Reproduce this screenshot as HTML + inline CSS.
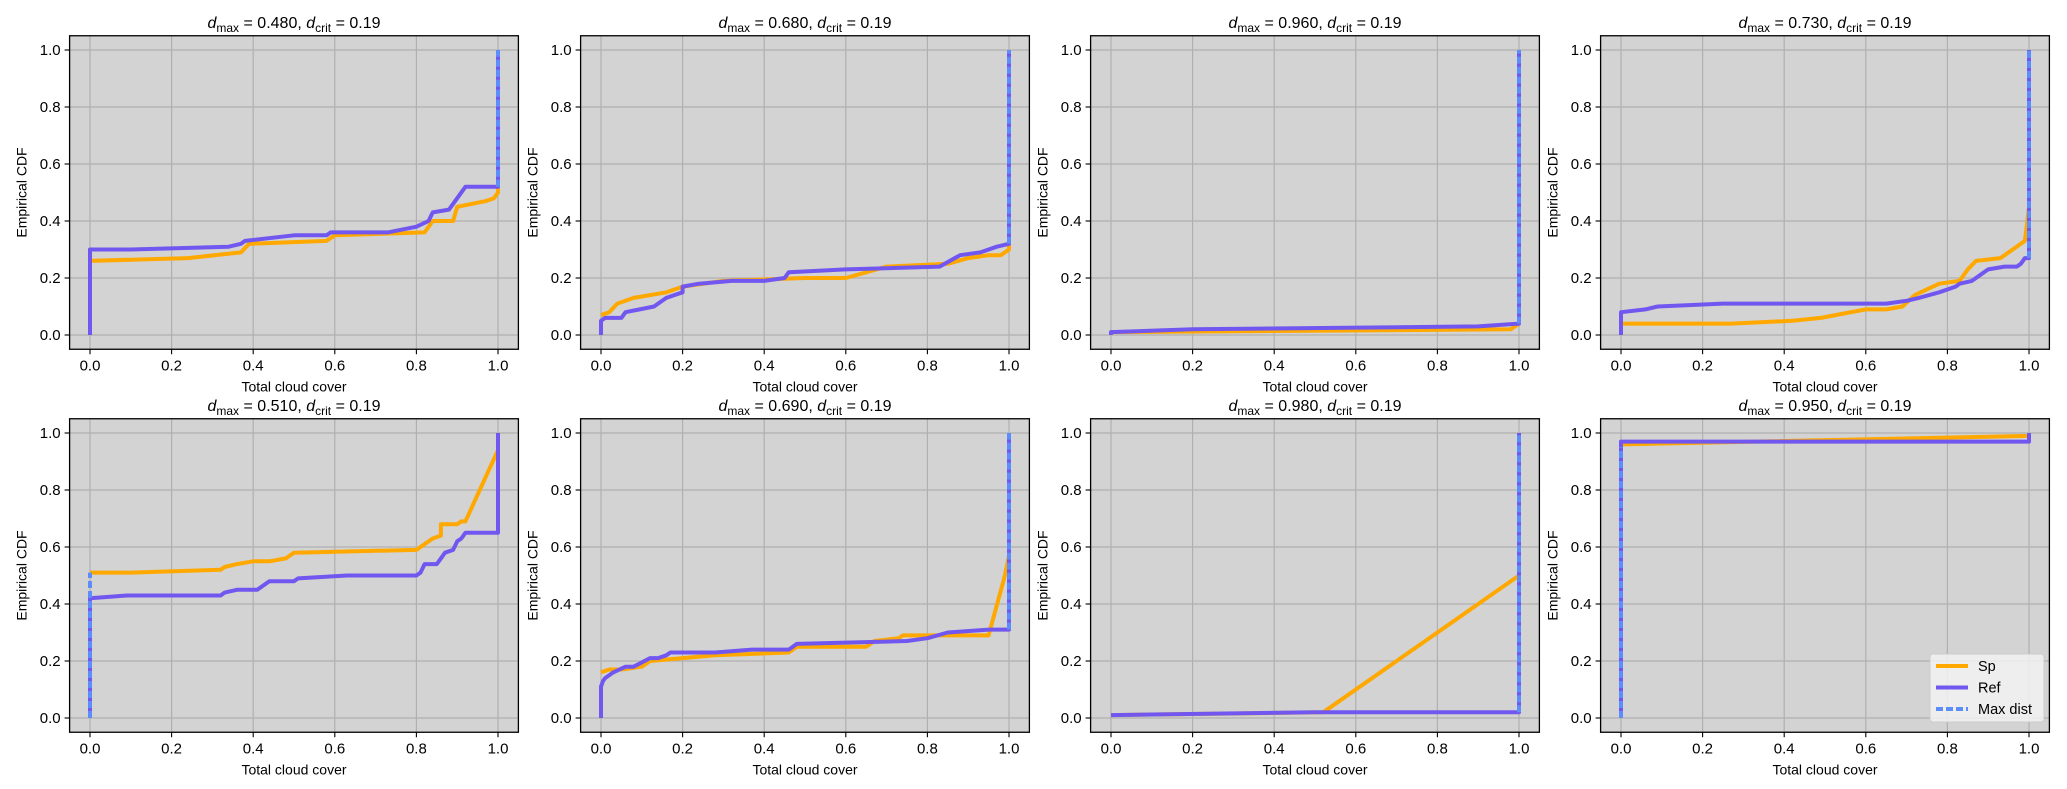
<!DOCTYPE html>
<html><head><meta charset="utf-8"><style>
html,body{margin:0;padding:0;background:#fff;}
svg{display:block;font-family:"Liberation Sans","DejaVu Sans",sans-serif;}
</style></head>
<body>
<svg id="fig" width="2067" height="789" viewBox="0 0 2067 789" xmlns="http://www.w3.org/2000/svg"></svg>
<script>
const panelTitles = ["0.480","0.680","0.960","0.730","0.510","0.690","0.980","0.950"];
const dCrit = "0.19";
const xTicks = [0,0.2,0.4,0.6,0.8,1.0];
const yTicks = [0,0.2,0.4,0.6,0.8,1.0];
const spSeries = [
 [[0,0.26],[0.24,0.27],[0.37,0.29],[0.39,0.32],[0.58,0.33],[0.6,0.35],[0.82,0.36],[0.84,0.40],[0.89,0.40],[0.9,0.45],[0.97,0.47],[0.99,0.48],[1,0.5],[1,1]],
 [[0,0.07],[0.02,0.08],[0.04,0.11],[0.08,0.13],[0.12,0.14],[0.16,0.15],[0.2,0.17],[0.3,0.19],[0.5,0.2],[0.6,0.2],[0.65,0.22],[0.7,0.24],[0.85,0.25],[0.9,0.27],[0.95,0.28],[0.98,0.28],[1,0.3],[1,1]],
 [[0,0.01],[0.98,0.02],[1,0.04],[1,1]],
 [[0,0.04],[0.27,0.04],[0.42,0.05],[0.49,0.06],[0.6,0.09],[0.65,0.09],[0.69,0.1],[0.72,0.14],[0.78,0.18],[0.83,0.19],[0.85,0.23],[0.87,0.26],[0.93,0.27],[0.96,0.3],[0.98,0.32],[0.99,0.33],[1,0.45],[1,1]],
 [[0,0.51],[0.1,0.51],[0.32,0.52],[0.33,0.53],[0.36,0.54],[0.4,0.55],[0.44,0.55],[0.48,0.56],[0.5,0.58],[0.8,0.59],[0.82,0.61],[0.84,0.63],[0.86,0.64],[0.86,0.68],[0.9,0.68],[0.91,0.69],[0.92,0.69],[1,0.94]],
 [[0,0.16],[0.02,0.17],[0.05,0.17],[0.1,0.18],[0.12,0.2],[0.2,0.21],[0.28,0.22],[0.46,0.23],[0.48,0.25],[0.65,0.25],[0.67,0.27],[0.73,0.28],[0.74,0.29],[0.95,0.29],[0.99,0.5],[1,0.57]],
 [[0,0.01],[0.52,0.02],[1,0.5]],
 [[0,0.96],[1,0.99],[1,1]]
];
const refSeries = [
 [[0,0],[0,0.3],[0.1,0.3],[0.34,0.31],[0.37,0.32],[0.38,0.33],[0.5,0.35],[0.58,0.35],[0.59,0.36],[0.73,0.36],[0.8,0.38],[0.83,0.4],[0.84,0.43],[0.88,0.44],[0.9,0.48],[0.92,0.52],[1,0.52],[1,1]],
 [[0,0],[0,0.05],[0.01,0.06],[0.05,0.06],[0.06,0.08],[0.13,0.1],[0.16,0.13],[0.2,0.15],[0.2,0.17],[0.24,0.18],[0.32,0.19],[0.4,0.19],[0.45,0.2],[0.46,0.22],[0.6,0.23],[0.83,0.24],[0.88,0.28],[0.93,0.29],[0.97,0.31],[1,0.32],[1,1]],
 [[0,0],[0,0.01],[0.2,0.02],[0.9,0.03],[1,0.04],[1,1]],
 [[0,0],[0,0.08],[0.06,0.09],[0.09,0.1],[0.25,0.11],[0.65,0.11],[0.7,0.12],[0.73,0.13],[0.78,0.15],[0.82,0.17],[0.83,0.18],[0.86,0.19],[0.88,0.21],[0.9,0.23],[0.94,0.24],[0.97,0.24],[0.98,0.25],[0.99,0.27],[1,0.27],[1,1]],
 [[0,0],[0,0.42],[0.09,0.43],[0.32,0.43],[0.33,0.44],[0.36,0.45],[0.41,0.45],[0.43,0.47],[0.44,0.48],[0.5,0.48],[0.51,0.49],[0.63,0.5],[0.8,0.5],[0.81,0.51],[0.82,0.54],[0.85,0.54],[0.86,0.56],[0.87,0.58],[0.89,0.59],[0.9,0.62],[0.91,0.63],[0.92,0.65],[1,0.65],[1,1]],
 [[0,0],[0,0.11],[0.005,0.13],[0.01,0.14],[0.03,0.16],[0.06,0.18],[0.08,0.18],[0.12,0.21],[0.14,0.21],[0.16,0.22],[0.17,0.23],[0.28,0.23],[0.37,0.24],[0.46,0.24],[0.47,0.25],[0.48,0.26],[0.75,0.27],[0.8,0.28],[0.85,0.3],[0.95,0.31],[1,0.31],[1,1]],
 [[0,0.01],[0.5,0.02],[1,0.02],[1,1]],
 [[0,0],[0,0.97],[1,0.97],[1,1]]
];
const maxDistX = [1,1,1,1,0,1,1,0];
const maxDistLo = [0.52,0.32,0.04,0.27,0,0.31,0.02,0];
const maxDistHi = [1,1,1,1,0.51,1,1,0.95];

const NS="http://www.w3.org/2000/svg";
const svg=document.getElementById('fig');
function mk(tag,attrs,parent){const e=document.createElementNS(NS,tag);for(const k in attrs)e.setAttribute(k,attrs[k]);(parent||svg).appendChild(e);return e;}
const colX0=[90,601,1111,1621], xScale=408;
const rowY0=[335,718], yScale=285;
const ORANGE="#ffa800", PURPLE="#7157ef", BLUE="#5c8dfa";
const LW=4;

for(let p=0;p<8;p++){
  const c=p%4, r=Math.floor(p/4);
  const sx=v=>colX0[c]+v*xScale, sy=v=>rowY0[r]-v*yScale;
  const g=mk('g',{});
  
  
  const L=sx(-0.05),R=sx(1.05),T=sy(1.05),B=sy(-0.05);
  const bg=mk('rect',{x:L,y:T,width:R-L,height:B-T,fill:"#d3d3d3"},g);
  
  
  xTicks.forEach(t=>{
    const gl=mk('line',{x1:sx(t),x2:sx(t),y1:T,y2:B,stroke:"#b0b0b0","stroke-width":1.2},g);
    
    
    mk('line',{x1:sx(t),x2:sx(t),y1:B,y2:B+5,stroke:"#000","stroke-width":1.1},g);
    const tl=mk('text',{x:sx(t),y:B+21,"text-anchor":"middle","font-size":15,fill:"#000"},g);
    tl.textContent=t.toFixed(1);
    
    
  });
  yTicks.forEach(t=>{
    const gl=mk('line',{x1:L,x2:R,y1:sy(t),y2:sy(t),stroke:"#b0b0b0","stroke-width":1.2},g);
    
    
    mk('line',{x1:L-5,x2:L,y1:sy(t),y2:sy(t),stroke:"#000","stroke-width":1.1},g);
    const tl=mk('text',{x:L-9,y:sy(t)+5,"text-anchor":"end","font-size":15,fill:"#000"},g);
    tl.textContent=t.toFixed(1);
    
    
  });
  const pts=a=>a.map(d=>sx(d[0]).toFixed(1)+","+sy(d[1]).toFixed(1)).join(" ");
  const sp=mk('polyline',{points:pts(spSeries[p]),fill:"none",stroke:ORANGE,"stroke-width":LW,"stroke-linejoin":"round"},g);
  
  
  const rf=mk('polyline',{points:pts(refSeries[p]),fill:"none",stroke:PURPLE,"stroke-width":LW,"stroke-linejoin":"round"},g);
  
  
  const md=mk('line',{x1:sx(maxDistX[p]),x2:sx(maxDistX[p]),y1:sy(maxDistLo[p]),y2:sy(maxDistHi[p]),stroke:BLUE,"stroke-width":LW,"stroke-dasharray":"7,3"},g);
  
  
  const fr=mk('rect',{x:L,y:T,width:R-L,height:B-T,fill:"none",stroke:"#000","stroke-width":1.3},g);
  
  
  const cx=(L+R)/2;
  const ti=mk('text',{x:cx,y:T-8,"text-anchor":"middle","font-size":16,fill:"#000"},g);
  
  
  ti.innerHTML='<tspan font-style="italic">d</tspan><tspan font-size="12" dy="4">max</tspan><tspan dy="-4"> = '+panelTitles[p]+', </tspan><tspan font-style="italic">d</tspan><tspan font-size="12" dy="4">crit</tspan><tspan dy="-4"> = '+dCrit+'</tspan>';
  const xl=mk('text',{x:cx,y:B+42,"text-anchor":"middle","font-size":14,fill:"#000"},g);
  xl.textContent="Total cloud cover";
  
  
  const yc=(T+B)/2;
  const yl=mk('text',{x:L-43,y:yc,"text-anchor":"middle","font-size":14,fill:"#000",transform:"rotate(-90 "+(L-43)+" "+yc+")"},g);
  yl.textContent="Empirical CDF";
  
  
}
// legend
const lg=mk('g',{});


mk('rect',{x:1930,y:654,width:114,height:68,rx:3,fill:"#f2f2f2","fill-opacity":0.85,stroke:"#cccccc"},lg);
const legNames=["Sp","Ref","Max dist"], legCols=[ORANGE,PURPLE,BLUE];
legNames.forEach((n,i)=>{
  const y=666+i*21.5;
  const ln=mk('line',{x1:1936,x2:1968,y1:y,y2:y,stroke:legCols[i],"stroke-width":LW,"stroke-dasharray":i==2?"7,3":"none"},lg);
  
  
  const t=mk('text',{x:1978,y:y+5,"font-size":14.5,fill:"#000"},lg);
  t.textContent=n;
  
  
});
</script>
</body></html>
